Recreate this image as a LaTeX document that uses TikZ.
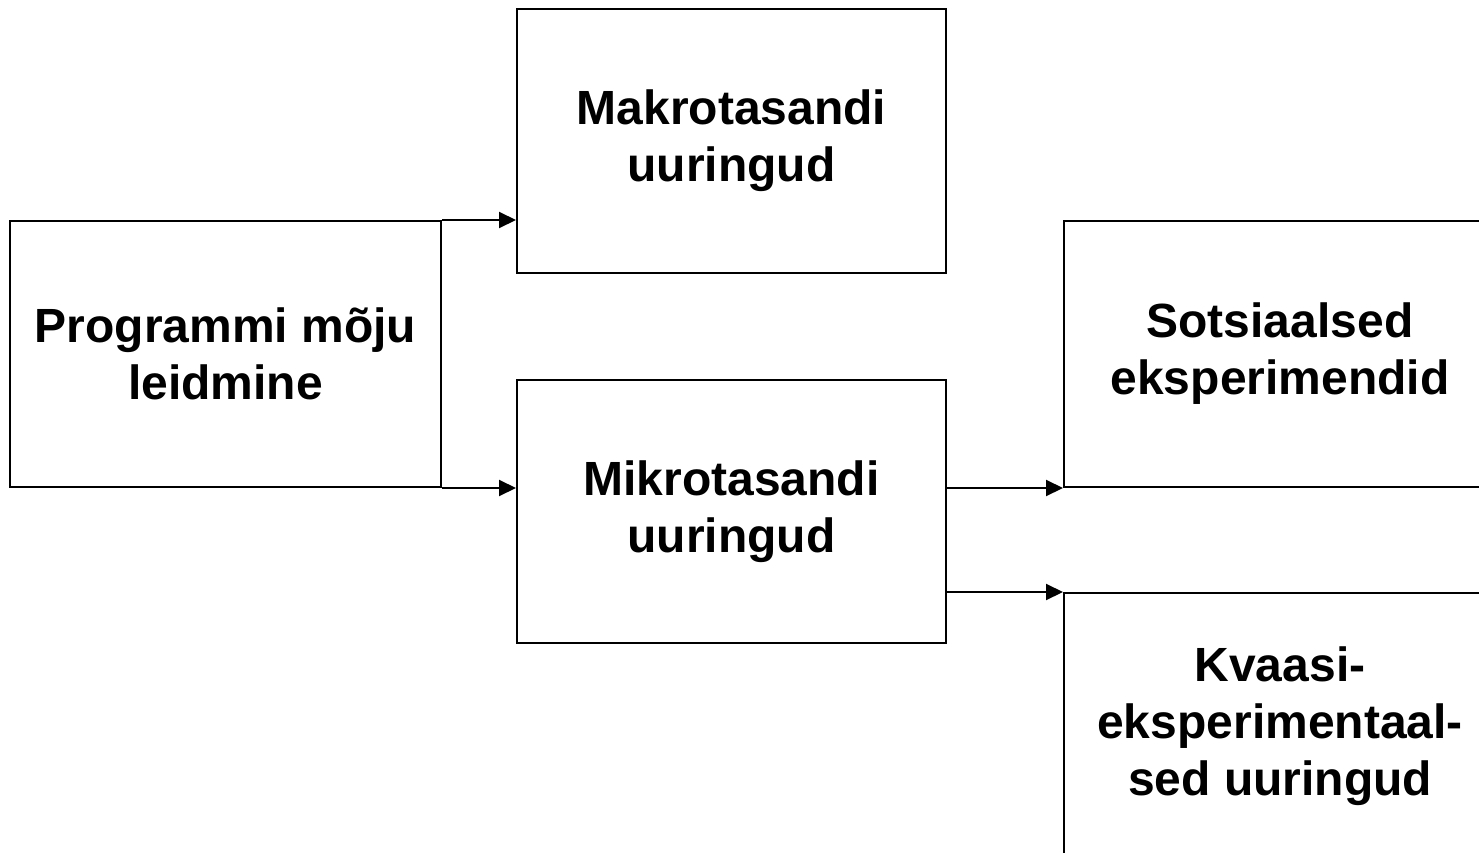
\documentclass[tikz,border=0pt]{standalone}
\usepackage{fontspec}
\setmainfont{Liberation Sans}
\usetikzlibrary{arrows.meta}
\begin{document}
\begin{tikzpicture}[x=1pt,y=-1pt,
  box/.style={draw, line width=2pt, inner sep=0pt, align=center,
    font=\fontsize{48}{57}\selectfont\bfseries},
  conn/.style={line width=2pt, -{Triangle[length=17pt,width=16pt]}}]
\useasboundingbox (0,0) rectangle (1479,853);
\fill[white] (0,0) rectangle (1479,853);
\clip (0,0) rectangle (1479,853);
\node[box, minimum width=431pt, minimum height=266pt] (prog) at (225.5,354) {Programmi mõju\\leidmine};
\node[box, minimum width=429pt, minimum height=264pt] (makro) at (731.5,141) {Makrotasandi\\uuringud};
\node[box, minimum width=429pt, minimum height=263pt] (mikro) at (731.5,511.5) {Mikrotasandi\\uuringud};
\node[box, minimum width=432pt, minimum height=266pt] (sots) at (1280,354) {Sotsiaalsed\\eksperimendid};
\node[box, minimum width=432pt, minimum height=266pt] (kvaasi) at (1280,726) {Kvaasi-\\eksperimentaal-\\sed uuringud};
\draw[conn] (prog.north east) -- (prog.north east -| makro.west);
\draw[conn] (prog.south east) -- (prog.south east -| mikro.west);
\draw[conn] (mikro.east |- sots.south west) -- (sots.south west);
\draw[conn] (mikro.east |- kvaasi.north west) -- (kvaasi.north west);
\end{tikzpicture}
\end{document}
